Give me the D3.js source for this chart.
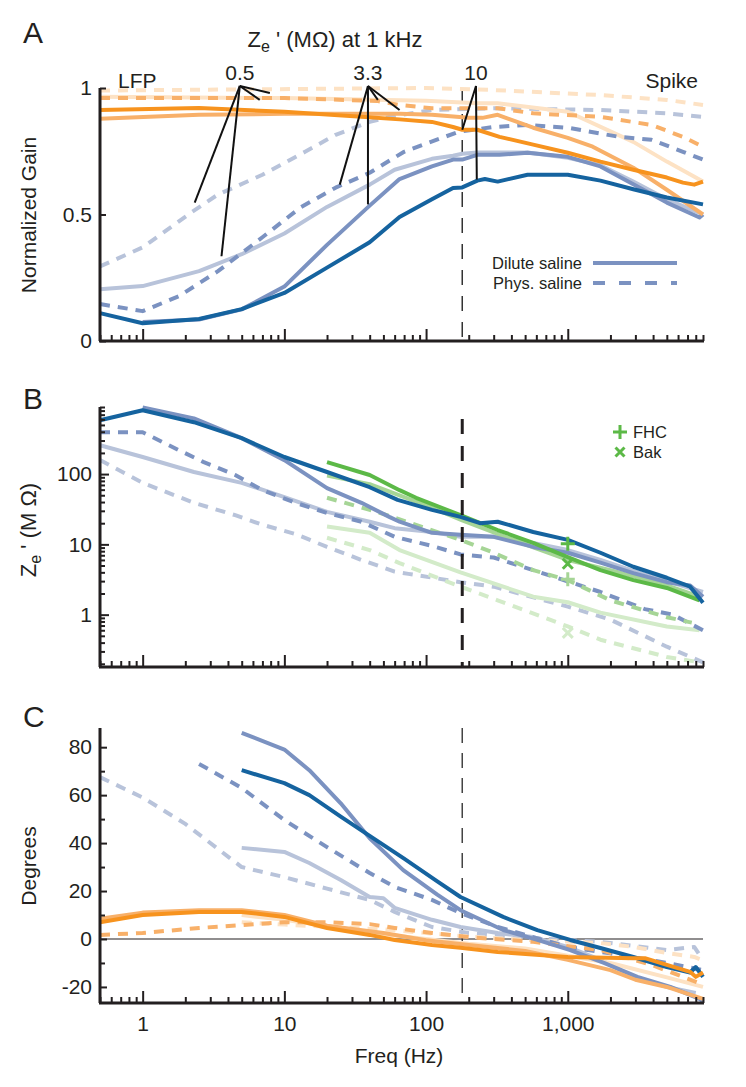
<!DOCTYPE html>
<html>
<head>
<meta charset="utf-8">
<script src="https://cdn.jsdelivr.net/npm/d3@7"></script>
<style>
  body { margin: 0; background: #fff; }
  text { font-family: Arial, "Liberation Sans", sans-serif; fill: #231f20; }
</style>
</head>
<body>
<div id="chart"></div>
<script>
// frequency axis labels
const freqMajor = [1, 10, 100, 1000];
const freqLabels = ['1', '10', '100', '1,000'];
const spikeCutoff = 180;

// ---- Panel A : normalized gain, [freq, gain] ----
const gainBlueDark = [[0.5,0.11],[1,0.07],[2.5,0.087],[5,0.126],[10,0.19],[20,0.29],[40,0.39],[65,0.49],[110,0.56],[155,0.605],[180,0.607],[230,0.634],[260,0.64],[320,0.63],[520,0.657],[1000,0.657],[1700,0.634],[2900,0.6],[5000,0.567],[9000,0.54]];
const gainBlueMid = [[1,0.075],[2.5,0.085],[5,0.125],[10,0.215],[20,0.38],[40,0.535],[65,0.64],[110,0.69],[155,0.717],[180,0.717],[230,0.736],[330,0.736],[520,0.744],[1000,0.728],[1700,0.69],[2900,0.62],[5000,0.547],[8500,0.488],[9000,0.5]];
const gainBlueLight = [[0.5,0.205],[1,0.217],[2.5,0.276],[5,0.343],[10,0.425],[20,0.53],[40,0.618],[60,0.677],[110,0.72],[155,0.732],[180,0.74],[230,0.745],[520,0.745],[1000,0.724],[1700,0.695],[2900,0.63],[5000,0.56],[9000,0.5]];
const gainBlueMidPhys = [[0.5,0.146],[1,0.118],[1.8,0.177],[3.4,0.276],[7,0.41],[13,0.528],[23,0.606],[40,0.665],[70,0.748],[100,0.78],[170,0.827],[290,0.845],[520,0.854],[1000,0.843],[2300,0.807],[3900,0.795],[6500,0.748],[9000,0.717]];
const gainBlueLightPhys = [[0.5,0.295],[1,0.37],[2.2,0.508],[3.4,0.579],[7,0.657],[14,0.748],[23,0.815],[40,0.866],[55,0.886],[110,0.913],[300,0.92],[1700,0.913],[5000,0.9],[9000,0.886]];
const gainOrangeDark = [[0.5,0.913],[2.5,0.921],[10,0.906],[35,0.886],[65,0.876],[110,0.866],[155,0.846],[180,0.835],[230,0.835],[330,0.807],[570,0.776],[1000,0.744],[1700,0.709],[2900,0.677],[5000,0.646],[6500,0.626],[7800,0.618],[9000,0.63]];
const gainOrangeMid = [[0.5,0.878],[2.5,0.894],[10,0.898],[65,0.898],[110,0.894],[200,0.882],[250,0.882],[320,0.894],[570,0.843],[1000,0.803],[1500,0.768],[2900,0.685],[5000,0.598],[9000,0.5]];
const gainOrangeLight = [[0.5,0.965],[10,0.96],[100,0.95],[230,0.94],[320,0.94],[1000,0.906],[2900,0.787],[5000,0.709],[9000,0.63]];
const gainOrangeMidPhys = [[0.5,0.96],[10,0.96],[45,0.949],[65,0.933],[110,0.92],[230,0.92],[320,0.92],[570,0.9],[1700,0.886],[3900,0.854],[6500,0.807],[9000,0.768]];
const gainOrangeLightPhys = [[0.5,0.99],[100,1.0],[300,0.992],[1700,0.972],[5000,0.953],[9000,0.933]];

// annotation pointers in A: first point is the apex under the label, [freq, gain]
const note05 = [[4.85,1.008],[2.33,0.547],[3.6,0.335],[7.9,0.98],[6.7,0.953]];
const note33 = [[38.9,1.008],[24.6,0.618],[38.9,0.54],[45.7,0.953],[65,0.913]];
const note10 = [[225,1.008],[180,0.835],[228,0.638]];
const noteLabels = ['0.5', '3.3', '10'];

// ---- Panel B : impedance Ze' (MOhm) ----
const zBlueDark = [[0.5,584],[1,809],[2.3,547],[5,324],[10,175],[20,107],[40,65],[63,43],[110,31],[175,24.6],[240,20],[320,21],[570,15],[1000,11.6],[1700,7.6],[2900,4.8],[5000,3.35],[7300,2.5],[9000,1.48]];
const zBlueMid = [[1,890],[2.3,620],[5,324],[10,158],[20,63],[35,39],[55,24.6],[65,21],[110,14.6],[175,13.7],[300,12.8],[570,9.2],[1000,7.6],[1700,5.5],[2900,3.9],[5000,2.9],[7300,2.6],[9000,1.8]];
const zBlueLight = [[0.5,257],[1,175],[2.3,107],[5,75],[10,47],[20,29],[40,21],[60,17],[110,15],[175,12.8],[300,12.8],[570,10.5],[1000,8.3],[1700,6],[2900,4.2],[5000,3],[9000,2.1]];
const zBlueMidPhys = [[0.5,394],[1,394],[1.8,219],[2.7,148],[4.5,97],[7,59],[12,39],[20,28],[35,21],[60,12.8],[110,9.5],[175,7.2],[300,6.5],[570,4.3],[1700,2.1],[3500,1.2],[5500,1.0],[9000,0.6]];
const zBlueLightPhys = [[0.5,158],[1,75],[2.3,39],[4.5,26],[7,19],[12,14],[20,9.2],[35,6],[60,4.1],[75,3.8],[175,2.9],[300,2.5],[1000,1.3],[2000,0.85],[5000,0.35],[9000,0.21]];
const zGreenDark = [[20,148],[40,97],[65,59],[85,46],[175,26],[320,16],[570,10.5],[1000,6.6],[1700,4.3],[2900,3.1],[5000,2.4],[8500,1.6]];
const zGreenMid = [[20,95],[40,72],[100,36],[180,22],[500,10],[1000,6],[2000,4.3],[5000,2.6],[8500,1.8]];
const zGreenMidPhys = [[20,46],[40,31],[60,24],[175,11.6],[300,7.6],[570,4.3],[1000,3.1],[2000,1.6],[5000,0.92],[7500,0.77]];
const zGreenLight = [[20,18],[40,14.6],[65,8.3],[175,4],[570,1.8],[1000,1.5],[1700,1.07],[5000,0.68],[8500,0.6]];
const zGreenLightPhys = [[20,12.4],[40,8.3],[65,5.4],[175,2.5],[320,1.6],[1000,0.68],[1700,0.44],[5000,0.25],[8500,0.21]];
const fhcPoints = [[1000,10.2],[1000,3.2]];
const bakPoints = [[1000,5.3],[1000,0.55]];

// ---- Panel C : phase (degrees) ----
const phBlueDark = [[5,70.4],[10,65],[15,60],[25,51],[40,43],[70,33.5],[120,24],[175,17.5],[350,9.2],[610,3.7],[1040,-0.4],[1700,-3.75],[2900,-7.5],[5000,-11.7],[7300,-14],[8000,-11.7],[9000,-15.8]];
const phBlueMid = [[5,86],[10,79],[15,70.4],[25,56.6],[40,42],[69,28.7],[120,18.5],[175,12],[350,3.75],[610,-0.4],[1040,-4.6],[1800,-10],[3100,-15.8],[5300,-20],[8500,-25],[9000,-26]];
const phBlueLight = [[5,38],[10,36.3],[15,31.7],[25,24.6],[40,17.5],[50,17],[60,13],[110,8],[175,5],[320,2.5],[570,0.8],[1000,-3.3],[1700,-8.7],[2900,-15.8],[5000,-20],[8000,-22.5]];
const phBlueMidPhys = [[2.5,73],[5,63],[10,49.6],[20,38.3],[40,27.5],[60,21.7],[110,16.3],[175,10.8],[320,5],[570,0.8],[1000,-3.3],[2000,-6],[5000,-10],[9000,-13]];
const phBlueLightPhys = [[0.5,67.5],[1,59],[2,48],[3.5,37],[5,30],[10,25.8],[20,21],[40,16.3],[60,11.3],[110,5],[200,2.5],[570,0.4],[1700,-1.2],[5000,-4.6],[7800,-3.3],[9000,-8.7]];
const phOrangeDark = [[0.5,7],[1,10],[2.5,11.3],[5,11.3],[10,9.2],[20,4.6],[40,1.7],[60,-0.4],[110,-2.5],[175,-3.7],[320,-5.4],[1000,-7.5],[2900,-8],[3500,-8],[5000,-10.8],[7300,-13.7],[8000,-15.8],[9000,-14]];
const phOrangeMid = [[0.5,8.5],[1,11],[2.5,12],[5,12],[10,10],[20,5.5],[50,2.5],[100,-0.5],[200,-2.5],[500,-5],[1000,-8.7],[2000,-13],[3000,-17],[5000,-20],[9000,-25]];
const phOrangeLight = [[5,10],[10,8],[50,2],[100,0],[200,-2],[500,-4],[1000,-7],[2000,-10],[5000,-16],[9000,-20]];
const phOrangeMidPhys = [[0.5,1.7],[1,2.5],[2.5,4.6],[5,5.8],[10,7],[20,7],[40,6.2],[60,4.6],[110,2.5],[200,0.8],[570,-1.2],[1700,-4.6],[3900,-10.8],[6500,-15.8],[9000,-19]];
const phOrangeLightPhys = [[5,7],[10,6],[50,4],[200,1],[570,-0.5],[1700,-1.7],[2900,-3.3],[5000,-5.8],[7800,-7.5],[9000,-9]];

const C = {
  blueDark: '#15639f', blueMid: '#7b92c1', blueLight: '#b8c3da',
  orangeDark: '#f7931e', orangeMid: '#f8b069', orangeLight: '#fde2c4',
  greenDark: '#5cb947', greenMid: '#a6d596', greenLight: '#d3ebc9'
};
const DASH = '10,8';
const LW = 4;
const INK = '#231f20';
const FS = 21;

const svg = d3.select('#chart').append('svg')
  .attr('width', 746).attr('height', 1087);

const x = d3.scaleLog().domain([0.5, 9000]).range([100, 703]);

const panels = {
  A: { y: d3.scaleLinear().domain([0, 1]).range([341, 88]), top: 88, bottom: 341 },
  B: { y: d3.scaleLog().domain([0.18, 900]).range([667, 407]), top: 407, bottom: 667 },
  C: { y: d3.scaleLinear().domain([-26.7, 88]).range([1003, 728]), top: 728, bottom: 1003 }
};

const minorFreqs = [];
[0.1, 1, 10, 100, 1000].forEach(d => {
  for (let m = 2; m <= 9; m++) {
    const v = d * m;
    if (v >= 0.5 && v <= 9000) minorFreqs.push(v);
  }
});

function styleText(g) {
  g.selectAll('text').attr('font-size', FS)
    .style('font-family', 'Arial, "Liberation Sans", sans-serif').attr('fill', INK);
}

function xAxis(p, labels) {
  const g = svg.append('g').attr('transform', `translate(0,${p.bottom})`);
  g.append('g').call(d3.axisBottom(x).tickValues(minorFreqs).tickSize(-6).tickSizeOuter(0).tickFormat(''))
    .call(s => s.select('.domain').remove());
  g.append('g').call(d3.axisBottom(x).tickValues(freqMajor).tickSize(-12).tickSizeOuter(0).tickPadding(13)
    .tickFormat((d, i) => labels ? freqLabels[i] : ''));
  g.selectAll('line').attr('stroke', INK).attr('stroke-width', 2);
  g.selectAll('.domain').attr('stroke', INK).attr('stroke-width', 3)
    .attr('d', `M${x.range()[0] - 1},0H${x.range()[1] + 1}`);
  styleText(g);
  return g;
}

function yAxis(p, axis) {
  const g = svg.append('g').attr('transform', 'translate(100,0)').call(axis);
  g.selectAll('line').attr('stroke', INK).attr('stroke-width', 2);
  g.select('.domain').attr('stroke', INK).attr('stroke-width', 3)
    .attr('d', `M0,${p.top}V${p.bottom}`);
  styleText(g);
  return g;
}

function yMinor(p, values) {
  const g = svg.append('g').attr('transform', 'translate(100,0)')
    .call(d3.axisLeft(p.y).tickValues(values).tickSize(-5).tickFormat(''));
  g.select('.domain').remove();
  g.selectAll('line').attr('stroke', INK).attr('stroke-width', 2);
}

function drawLine(p, data, color, dashed) {
  const line = d3.line().x(d => x(d[0])).y(d => p.y(d[1]));
  svg.append('path').datum(data)
    .attr('d', line)
    .attr('fill', 'none')
    .attr('stroke', color)
    .attr('stroke-width', LW)
    .attr('stroke-linejoin', 'round')
    .attr('stroke-dasharray', dashed ? DASH : null);
}

function cutoffLine(p, y0, width, dash, color) {
  svg.append('line')
    .attr('x1', x(spikeCutoff)).attr('x2', x(spikeCutoff))
    .attr('y1', y0).attr('y2', p.bottom)
    .attr('stroke', color).attr('stroke-width', width).attr('stroke-dasharray', dash);
}

// ======== Panel A ========
const A = panels.A;
cutoffLine(A, A.top, 1.5, '15,11', '#333');
[
  [gainBlueLightPhys, C.blueLight, true], [gainOrangeLightPhys, C.orangeLight, true],
  [gainBlueLight, C.blueLight, false], [gainOrangeLight, C.orangeLight, false],
  [gainBlueMidPhys, C.blueMid, true], [gainOrangeMidPhys, C.orangeMid, true],
  [gainBlueMid, C.blueMid, false], [gainOrangeMid, C.orangeMid, false],
  [gainOrangeDark, C.orangeDark, false], [gainBlueDark, C.blueDark, false]
].forEach(s => drawLine(A, s[0], s[1], s[2]));

xAxis(A, false);
yAxis(A, d3.axisLeft(A.y).tickValues([0, 0.5, 1]).tickSize(-6).tickPadding(8).tickFormat(d => String(d)));

// pointers from electrode impedance labels to curves
[note05, note33, note10].forEach((n, i) => {
  const apex = n[0];
  const pts = n.slice(1);
  if (i === 2) {
    svg.append('path')
      .attr('d', d3.line()([[x(pts[0][0]), A.y(pts[0][1])], [x(apex[0]), A.y(apex[1])], [x(pts[1][0]), A.y(pts[1][1])]]))
      .attr('fill', 'none').attr('stroke', '#111').attr('stroke-width', 2);
  } else {
    pts.forEach(pt => {
      svg.append('line')
        .attr('x1', x(apex[0])).attr('y1', A.y(apex[1]))
        .attr('x2', x(pt[0])).attr('y2', A.y(pt[1]))
        .attr('stroke', '#111').attr('stroke-width', 2);
    });
  }
  svg.append('text')
    .attr('x', x(apex[0])).attr('y', A.y(apex[1]) - 6)
    .attr('text-anchor', 'middle').attr('font-size', FS)
    .text(noteLabels[i]);
});

const titleA = svg.append('text').attr('x', 335).attr('y', 47).attr('text-anchor', 'middle').attr('font-size', 22);
titleA.append('tspan').text('Z');
titleA.append('tspan').attr('dy', 5).attr('font-size', 16).text('e');
titleA.append('tspan').attr('dy', -5).text(" ' (M\u03A9) at 1 kHz");

svg.append('text').attr('x', 118).attr('y', 88).attr('font-size', FS).text('LFP');
svg.append('text').attr('x', 698).attr('y', 88).attr('text-anchor', 'end').attr('font-size', FS).text('Spike');

// legend A
const legA = [['Dilute saline', false], ['Phys. saline', true]];
legA.forEach((d, i) => {
  const yy = 263 + i * 20;
  svg.append('text').attr('x', 582).attr('y', yy + 6).attr('text-anchor', 'end').attr('font-size', 16.5).text(d[0]);
  svg.append('line').attr('x1', 593).attr('x2', 677).attr('y1', yy).attr('y2', yy)
    .attr('stroke', C.blueMid).attr('stroke-width', LW).attr('stroke-dasharray', d[1] ? '12,14' : null);
});

// ======== Panel B ========
const B = panels.B;
[
  [zBlueLightPhys, C.blueLight, true], [zGreenLightPhys, C.greenLight, true],
  [zBlueLight, C.blueLight, false], [zGreenLight, C.greenLight, false],
  [zBlueMidPhys, C.blueMid, true], [zGreenMidPhys, C.greenMid, true],
  [zGreenMid, C.greenMid, false], [zBlueMid, C.blueMid, false],
  [zGreenDark, C.greenDark, false], [zBlueDark, C.blueDark, false]
].forEach(s => drawLine(B, s[0], s[1], s[2]));
cutoffLine(B, 419, 3, '15,12', INK);

function plus(g, cx, cy, color, r) {
  g.append('path').attr('d', `M${cx - r},${cy}H${cx + r}M${cx},${cy - r}V${cy + r}`)
    .attr('stroke', color).attr('stroke-width', 3).attr('fill', 'none');
}
function cross(g, cx, cy, color, r) {
  g.append('path').attr('d', `M${cx - r},${cy - r}L${cx + r},${cy + r}M${cx - r},${cy + r}L${cx + r},${cy - r}`)
    .attr('stroke', color).attr('stroke-width', 3).attr('fill', 'none');
}
const mk = svg.append('g');
fhcPoints.forEach((d, i) => plus(mk, x(d[0]), B.y(d[1]), i === 0 ? C.greenDark : C.greenMid, 7));
bakPoints.forEach((d, i) => cross(mk, x(d[0]), B.y(d[1]), i === 0 ? C.greenDark : C.greenLight, 5));

const minorZ = [];
[0.1, 1, 10, 100].forEach(d => {
  for (let m = 2; m <= 9; m++) {
    const v = d * m;
    if (v >= 0.18 && v <= 900) minorZ.push(v);
  }
});
xAxis(B, false);
yMinor(B, minorZ);
yAxis(B, d3.axisLeft(B.y).tickValues([1, 10, 100]).tickSize(-9).tickPadding(8).tickFormat(d => String(d)));

// legend B
plus(svg, 620, 432, C.greenDark, 7);
svg.append('text').attr('x', 633).attr('y', 438).attr('font-size', 16.5).text('FHC');
cross(svg, 620, 452, C.greenDark, 4.5);
svg.append('text').attr('x', 633).attr('y', 458).attr('font-size', 16.5).text('Bak');

// ======== Panel C ========
const Cp = panels.C;
cutoffLine(Cp, Cp.top, 1.5, '15,10', '#444');
svg.append('line').attr('x1', 100).attr('x2', 703).attr('y1', Cp.y(0)).attr('y2', Cp.y(0))
  .attr('stroke', INK).attr('stroke-width', 1.2);
[
  [phBlueLightPhys, C.blueLight, true], [phOrangeLightPhys, C.orangeLight, true],
  [phBlueLight, C.blueLight, false], [phOrangeLight, C.orangeLight, false],
  [phBlueMidPhys, C.blueMid, true], [phOrangeMidPhys, C.orangeMid, true],
  [phBlueMid, C.blueMid, false], [phOrangeMid, C.orangeMid, false],
  [phBlueDark, C.blueDark, false], [phOrangeDark, C.orangeDark, false]
].forEach(s => drawLine(Cp, s[0], s[1], s[2]));

xAxis(Cp, true);
yMinor(Cp, [-10, 10, 30, 50, 70]);
yAxis(Cp, d3.axisLeft(Cp.y).tickValues([-20, 0, 20, 40, 60, 80]).tickSize(-7).tickPadding(8).tickFormat(d => String(d)));

// axis titles
svg.append('text').attr('transform', 'translate(36,215) rotate(-90)').attr('text-anchor', 'middle')
  .attr('font-size', FS).text('Normalized Gain');
const zl = svg.append('text').attr('transform', 'translate(36,530) rotate(-90)').attr('text-anchor', 'middle').attr('font-size', 22);
zl.append('tspan').text('Z');
zl.append('tspan').attr('dy', 5).attr('font-size', 16).text('e');
zl.append('tspan').attr('dy', -5).text(" ' (M \u03A9)");
svg.append('text').attr('transform', 'translate(36,866) rotate(-90)').attr('text-anchor', 'middle')
  .attr('font-size', FS).text('Degrees');
svg.append('text').attr('x', 399).attr('y', 1063).attr('text-anchor', 'middle').attr('font-size', FS).text('Freq (Hz)');

// panel letters
[['A', 43], ['B', 409], ['C', 727]].forEach(d => {
  svg.append('text').attr('x', 23).attr('y', d[1]).attr('font-size', 30).text(d[0]);
});
</script>
</body>
</html>
